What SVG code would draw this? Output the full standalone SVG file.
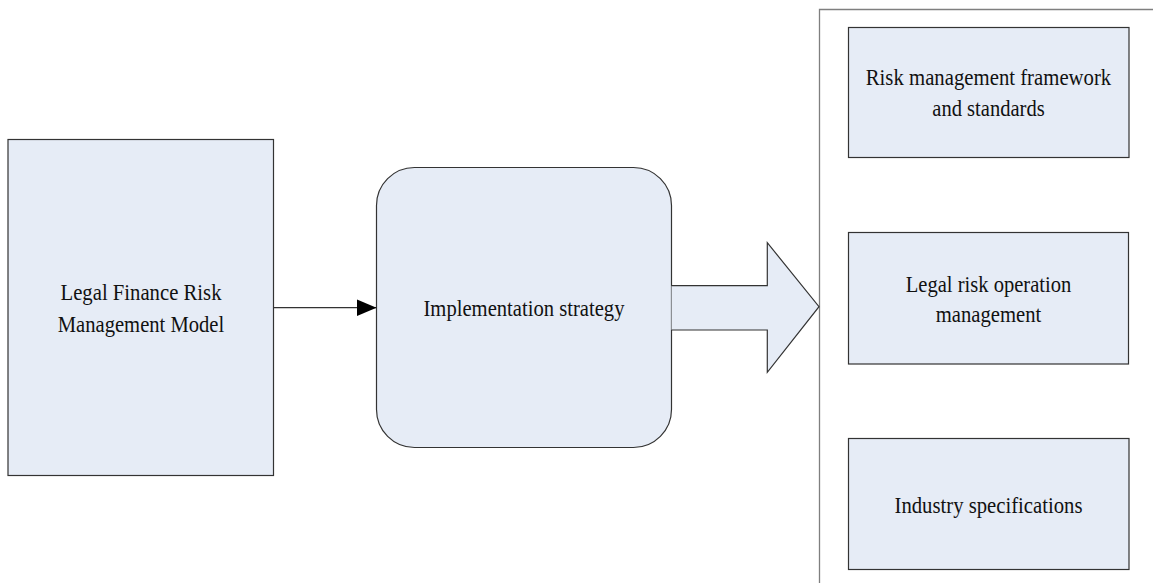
<svg xmlns="http://www.w3.org/2000/svg" width="1153" height="583" viewBox="0 0 1153 583">
  <style>
    .box { fill: #e6ecf6; stroke: #333333; stroke-width: 1.2; }
    .lbl { font-family: "Liberation Serif", "Times New Roman", serif; font-size: 24px; fill: #111111; text-anchor: middle; }
    .conn { stroke: #333333; stroke-width: 1.2; fill: none; }
  </style>
  <defs>
    <marker id="ah" markerWidth="20" markerHeight="17" refX="20" refY="8.5" orient="auto" markerUnits="userSpaceOnUse">
      <path d="M0,0 L20,8.5 L0,17 Z" fill="#000000"/>
    </marker>
  </defs>
  <rect width="1153" height="583" fill="#ffffff"/>

  <g id="container">
    <path d="M1160,9.5 L819.5,9.5 L819.5,590" fill="none" stroke="#7f7f7f" stroke-width="1.3"/>
  </g>

  <g id="model">
    <rect class="box" x="8" y="139.5" width="265.5" height="336"/>
    <text class="lbl" x="141" y="299.5" textLength="161" lengthAdjust="spacingAndGlyphs">Legal Finance Risk</text>
    <text class="lbl" x="141" y="331.5" textLength="166.5" lengthAdjust="spacingAndGlyphs">Management Model</text>
  </g>

  <g id="strategy">
    <rect class="box" x="376.5" y="167.5" width="295" height="280" rx="38" ry="38"/>
    <text class="lbl" x="524" y="316" textLength="201" lengthAdjust="spacingAndGlyphs">Implementation strategy</text>
  </g>

  <g id="framework">
    <rect class="box" x="848.5" y="27.5" width="280.5" height="130"/>
    <text class="lbl" x="988.5" y="85" textLength="245.5" lengthAdjust="spacingAndGlyphs">Risk management framework</text>
    <text class="lbl" x="988.5" y="115.5" textLength="112.5" lengthAdjust="spacingAndGlyphs">and standards</text>
  </g>

  <g id="operation">
    <rect class="box" x="848.5" y="232.5" width="280" height="131.5"/>
    <text class="lbl" x="988.5" y="291.5" textLength="165.5" lengthAdjust="spacingAndGlyphs">Legal risk operation</text>
    <text class="lbl" x="988.5" y="321.5" textLength="105.5" lengthAdjust="spacingAndGlyphs">management</text>
  </g>

  <g id="industry">
    <rect class="box" x="848.5" y="438.5" width="280.5" height="131"/>
    <text class="lbl" x="988.5" y="513" textLength="188" lengthAdjust="spacingAndGlyphs">Industry specifications</text>
  </g>

  <g id="connectors">
    <line class="conn" x1="273.5" y1="307.7" x2="376.5" y2="307.7" marker-end="url(#ah)"/>
    <path class="box" d="M671.5,285.7 L767.3,285.7 L767.3,242.7 L819,306.7 L767.3,372.3 L767.3,330 L671.5,330"/>
  </g>
</svg>
